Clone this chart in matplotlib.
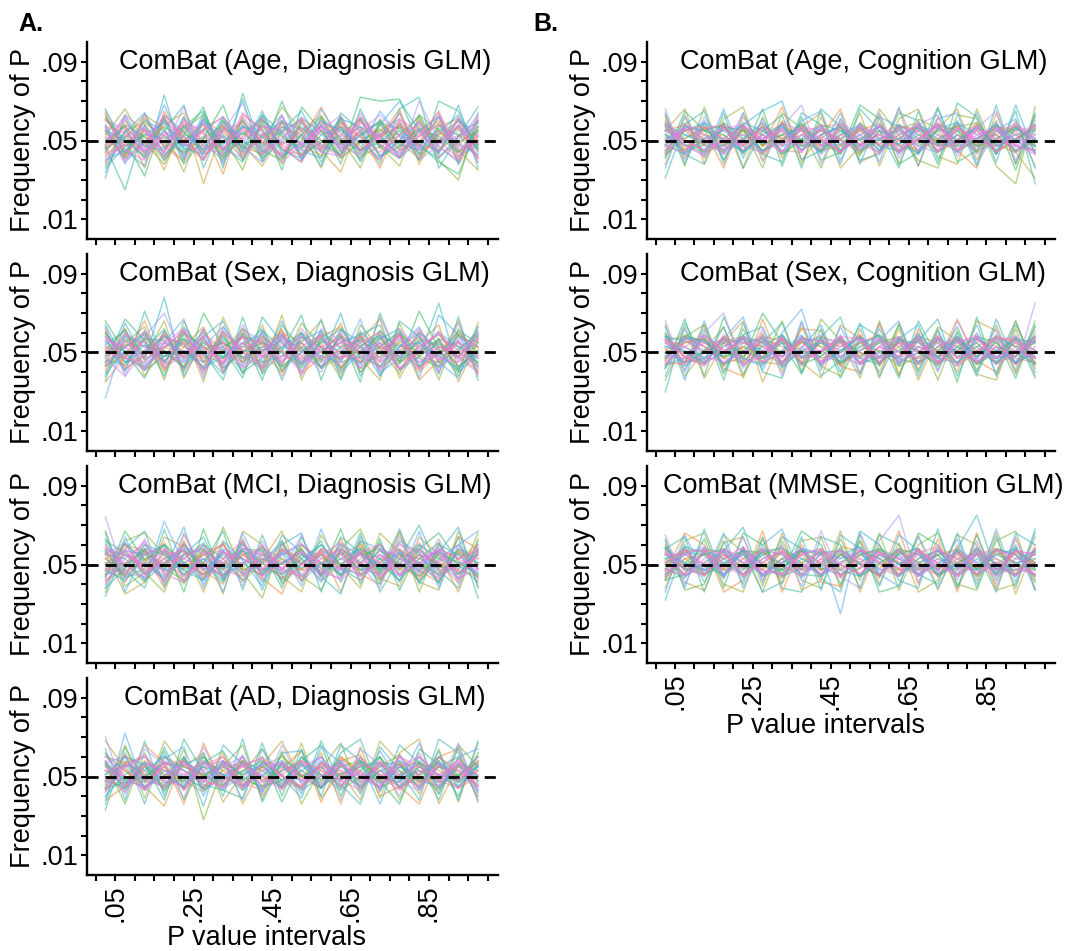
import numpy as np
import matplotlib
matplotlib.use('Agg')
import matplotlib.pyplot as plt
import matplotlib.transforms as mtransforms
import seaborn as sns

plt.rcParams['font.family'] = ['Liberation Sans', 'DejaVu Sans']

# interval midpoints (x) and tick labels
x_mid = [0.025, 0.075, 0.125, 0.175, 0.225, 0.275, 0.325, 0.375, 0.425, 0.475,
         0.525, 0.575, 0.625, 0.675, 0.725, 0.775, 0.825, 0.875, 0.925, 0.975]
x_ticks = [0.05, 0.25, 0.45, 0.65, 0.85]
x_ticklabels = ['.05', '.25', '.45', '.65', '.85']
y_ticks = [0.01, 0.05, 0.09]
y_ticklabels = ['.01', '.05', '.09']

# frequency of P per interval, in thousandths, one string per simulation run
age_dx = [
    "54 41 58 47 39 56 62 44 51 59 42 49 61 45 53 57 40 55 47 60",
    "44 57 46 63 52 40 55 59 43 50 61 47 42 56 51 64 45 49 58 41",
    "61 45 40 53 58 47 43 64 55 39 48 57 46 62 50 44 56 47 40 53",
    "38 52 56 44 61 54 46 41 58 49 45 55 63 43 54 46 60 41 52 57",
    "49 62 43 55 41 59 52 47 39 60 55 44 51 57 42 53 47 62 45 49",
    "57 39 49 60 46 43 56 53 62 45 41 58 48 52 60 41 50 44 58 46",
    "45 54 64 42 53 49 40 58 47 55 60 39 56 45 49 58 43 54 63 44",
    "36 47 53 51 57 44 61 45 52 41 53 62 44 55 42 50 63 47 39 59",
    "55 50 42 61 45 56 47 39 60 53 43 49 57 40 59 48 45 56 53 41",
    "48 58 52 40 56 63 43 50 42 57 51 45 53 61 47 41 55 50 60 48",
    "63 43 56 49 44 51 58 46 54 38 61 55 41 49 56 45 61 42 49 55",
    "42 53 45 58 64 47 49 57 40 60 48 42 62 47 40 57 52 60 44 50",
    "51 44 62 47 49 40 60 42 57 48 55 63 45 53 60 49 41 53 56 45",
    "60 56 41 53 43 59 39 55 46 63 42 50 49 41 55 61 48 45 57 39",
    "43 48 55 44 60 53 45 62 49 43 56 46 59 52 44 53 58 50 41 61",
    "56 40 49 62 48 44 55 51 61 47 39 57 52 60 48 42 53 64 46 49",
    "47 61 44 50 55 58 51 41 53 57 52 44 42 55 63 52 45 55 49 42",
    "65 49 57 43 52 46 59 50 44 51 62 53 47 43 53 60 40 48 55 59",
    "40 45 53 59 42 61 48 57 55 42 49 60 55 49 41 50 59 44 61 52",
    "50 57 47 45 62 41 53 44 63 54 45 41 61 57 52 43 55 62 42 48",
    "58 43 60 55 47 52 42 61 41 49 57 48 43 53 59 56 47 41 52 60",
    "46 52 41 63 54 45 62 48 52 60 40 53 57 45 50 64 43 58 48 43",
    "55 41 50 46 57 65 45 54 45 40 59 50 48 61 42 47 56 52 44 55",
    "39 55 59 52 44 48 57 40 58 52 46 61 41 50 55 53 62 45 53 47",
    "62 47 52 42 55 43 49 60 48 57 53 42 60 44 58 45 49 59 40 57",
    "44 60 48 57 50 58 41 52 61 45 43 55 50 57 47 59 42 53 60 50",
    "52 42 61 48 40 60 54 47 43 59 56 50 42 62 53 41 60 49 57 45",
    "57 54 43 60 52 40 58 43 53 48 42 59 54 45 52 58 47 62 42 54",
    "47 63 55 41 59 50 46 56 50 42 60 45 57 52 40 61 54 44 62 41",
    "41 48 45 54 48 55 62 50 57 55 48 57 46 59 51 42 52 58 50 63",
    "57 38 64 46 67 41 55 69 43 62 47 60 44 64 48 41 70 50 60 39",
    "34 55 44 68 47 61 38 57 52 63 40 66 50 45 65 52 46 63 38 64",
    "66 45 37 73 40 64 44 71 39 55 65 46 62 39 58 70 55 43 68 36",
    "31 63 47 55 68 36 60 46 65 43 53 37 64 55 38 66 72 36 52 67",
    "47 25 58 40 53 67 36 74 44 70 46 58 38 66 46 55 40 70 65 46",
    "61 50 32 62 38 51 68 40 60 35 67 55 42 72 70 71 48 39 33 57",
    "53 66 49 38 58 45 52 35 63 46 39 62 51 36 61 47 57 40 30 62",
    "37 51 63 56 34 62 41 60 48 67 55 36 59 42 47 37 63 55 45 35",
    "64 42 55 35 62 28 57 48 37 54 61 45 34 60 52 66 38 57 61 48",
    "46 58 36 65 50 55 33 63 56 41 50 67 48 54 36 59 49 65 38 52",
]
sex_dx = [
    "52 43 58 46 55 39 60 51 45 57 48 59 42 53 61 45 50 56 43 51",
    "43 56 48 60 41 52 46 58 54 44 62 50 55 45 51 59 41 53 48 60",
    "58 48 41 53 61 45 55 42 50 60 44 53 47 58 41 51 62 46 56 47",
    "47 60 53 42 49 58 43 62 55 48 51 40 59 50 55 42 53 60 47 40",
    "55 41 61 50 45 53 63 47 42 53 58 48 45 61 50 57 45 49 58 53",
    "39 51 49 58 54 42 48 55 59 41 50 60 52 44 58 48 55 42 51 61",
    "60 47 43 55 48 61 42 51 50 59 45 55 62 48 43 53 60 51 40 49",
    "48 58 55 45 59 49 53 40 61 52 55 43 50 57 47 60 43 57 53 45",
    "56 45 51 62 42 55 47 59 45 48 60 52 42 53 59 41 51 48 61 55",
    "45 53 60 48 51 43 58 50 55 42 53 46 58 40 53 61 48 55 43 50",
    "51 62 42 53 57 48 45 60 40 58 50 57 46 60 42 50 58 45 52 59",
    "43 49 57 40 60 52 55 47 58 50 44 61 53 49 57 45 53 59 48 41",
    "62 42 48 59 47 58 40 53 51 60 55 42 48 58 52 55 40 50 60 52",
    "41 59 53 50 43 60 51 45 57 38 58 50 60 45 48 59 53 43 55 48",
    "53 47 45 57 55 41 61 50 43 55 46 59 43 55 60 42 50 61 45 57",
    "57 52 61 44 50 53 45 58 48 51 40 53 57 52 46 58 45 53 50 43",
    "47 38 51 55 62 48 53 43 60 46 59 45 51 42 55 48 59 40 57 53",
    "50 56 44 61 45 59 50 55 40 58 52 48 61 53 45 51 42 56 47 60",
    "64 45 54 48 51 42 57 47 53 45 56 61 40 50 59 53 55 48 42 51",
    "43 53 59 45 57 50 39 60 51 56 44 51 55 59 40 47 51 60 53 47",
    "54 61 47 51 42 56 48 53 62 43 50 58 45 48 53 60 43 50 56 42",
    "46 44 57 56 50 45 59 40 47 53 60 42 53 56 50 44 57 54 48 59",
    "59 50 41 48 60 53 47 58 55 50 42 56 50 45 61 51 47 43 59 50",
    "40 57 50 59 47 51 55 48 43 59 51 45 58 53 43 56 50 57 41 55",
    "53 48 60 42 56 45 51 62 50 40 58 53 47 51 58 45 61 51 50 45",
    "48 54 53 51 43 62 42 50 58 51 47 50 59 42 50 54 48 45 59 53",
    "61 41 50 58 53 47 56 45 53 61 44 55 39 60 53 48 56 53 47 58",
    "45 60 46 53 48 55 50 59 42 48 55 47 51 58 45 59 42 50 55 40",
    "51 47 56 43 62 40 60 51 57 45 53 59 48 47 55 41 53 59 51 50",
    "56 53 42 55 50 58 44 55 47 58 48 43 56 50 42 62 51 47 45 57",
    "63 38 58 70 46 62 40 64 48 59 38 62 56 42 68 47 60 40 65 38",
    "27 59 41 55 67 37 63 50 44 66 40 57 46 67 38 53 63 45 37 63",
    "36 65 46 78 38 58 66 43 61 36 60 46 70 38 57 62 37 69 59 43",
    "58 40 71 45 57 41 52 37 68 55 43 67 36 59 64 41 48 75 41 63",
    "44 67 56 38 63 50 36 68 39 51 69 36 62 55 38 66 58 39 68 36",
    "66 50 37 61 40 70 53 58 36 64 52 42 59 35 70 45 71 52 38 58",
    "38 55 63 36 66 45 61 39 56 43 65 53 37 64 52 39 60 36 62 44",
    "60 45 48 66 37 57 44 62 41 69 36 58 63 47 36 65 42 57 40 65",
    "49 62 38 52 61 35 68 45 64 40 55 66 41 56 67 37 55 64 35 56",
    "35 48 66 41 53 63 40 55 48 62 39 48 65 40 50 59 36 46 66 39",
]
mci_dx = [
    "53 45 57 41 60 50 44 55 47 58 53 42 50 59 46 55 44 52 57 48",
    "44 57 47 53 42 56 60 46 53 43 48 58 55 45 51 61 49 43 53 58",
    "59 50 43 58 50 45 53 62 44 51 57 46 43 56 60 44 53 57 46 51",
    "41 53 61 46 55 58 43 51 57 48 45 55 61 49 44 53 48 59 43 56",
    "55 61 45 50 58 40 57 45 51 61 42 50 56 44 55 48 58 46 55 45",
    "47 42 55 60 45 53 48 58 41 55 60 51 45 57 48 57 41 53 60 50",
    "57 55 50 43 53 61 45 50 59 45 53 41 58 51 61 45 55 50 43 57",
    "38 48 58 55 47 42 56 53 46 57 50 60 48 42 53 50 60 44 51 46",
    "62 56 46 51 57 50 41 60 51 43 55 48 53 58 45 56 46 57 50 41",
    "45 51 41 57 44 60 53 42 55 50 58 45 57 47 50 42 53 61 45 55",
    "53 44 60 48 51 55 47 57 45 53 42 58 50 55 58 47 51 45 56 50",
    "50 60 53 42 61 45 51 48 59 41 51 55 44 61 42 53 58 48 53 60",
    "42 47 51 61 48 57 44 55 50 60 47 50 60 45 51 58 42 55 47 44",
    "58 41 56 50 45 51 61 44 53 48 57 44 53 50 60 48 55 42 58 53",
    "48 58 45 55 57 43 50 56 42 58 50 56 47 57 44 51 61 50 41 57",
    "56 50 62 45 41 55 57 50 60 47 44 53 58 42 55 45 50 58 53 47",
    "40 55 50 57 53 48 45 60 48 55 61 48 42 51 57 55 45 51 60 42",
    "61 45 44 53 58 56 51 42 55 45 50 57 53 48 45 60 56 44 50 55",
    "50 57 55 47 50 42 58 53 47 51 56 45 60 55 50 44 51 57 45 58",
    "45 48 60 56 47 53 42 57 51 62 44 51 48 45 58 53 47 60 55 48",
    "55 53 42 50 60 47 55 45 57 42 53 60 50 56 47 57 51 41 58 51",
    "44 61 51 44 55 58 48 51 44 56 48 55 45 58 53 42 60 53 48 56",
    "57 43 48 60 51 45 57 47 53 50 58 44 56 47 57 50 44 56 51 45",
    "51 50 57 48 42 57 50 61 48 45 55 50 58 51 42 55 53 48 57 50",
    "47 55 45 53 57 51 44 55 58 53 47 56 44 53 60 47 57 50 45 55",
    "60 44 53 57 48 55 60 48 45 57 51 47 55 60 48 51 42 58 53 57",
    "42 50 58 45 56 44 53 57 50 47 60 53 50 44 53 58 50 45 56 43",
    "53 60 47 51 53 60 47 44 56 51 42 57 48 56 51 45 55 51 47 60",
    "48 46 56 58 44 50 56 53 47 58 50 45 57 50 55 48 58 47 50 53",
    "58 55 50 42 61 48 51 58 55 48 56 51 47 55 43 57 50 56 43 48",
    "74 43 63 40 66 47 57 39 62 46 65 42 61 50 38 64 46 63 40 59",
    "38 64 42 72 50 60 36 66 45 56 39 68 44 62 58 41 67 38 60 67",
    "66 36 58 47 69 38 62 52 39 65 56 44 35 64 47 68 40 56 69 38",
    "34 58 67 39 55 64 43 62 37 60 66 36 64 56 40 62 56 40 64 33",
    "63 47 38 68 41 51 67 37 65 40 50 62 41 66 36 53 70 47 38 62",
    "43 67 52 60 36 68 42 58 57 38 64 45 68 40 63 37 58 66 52 44",
    "67 39 46 36 62 42 69 46 33 62 44 37 58 68 45 66 36 61 42 66",
    "36 62 66 55 40 58 35 67 60 44 36 65 49 38 66 56 41 37 67 39",
    "56 35 41 64 59 36 61 41 52 67 41 58 36 62 43 39 64 55 36 63",
    "46 60 57 38 65 47 40 63 43 35 60 50 63 45 40 67 47 41 64 58",
]
ad_dx = [
    "53 45 56 48 59 43 51 57 47 55 50 44 59 52 48 57 46 55 50 58",
    "46 57 48 55 43 53 60 46 51 44 58 53 48 43 57 51 56 47 59 45",
    "60 50 43 58 53 48 44 56 59 50 45 57 53 50 45 55 60 51 44 53",
    "43 55 60 46 57 51 56 44 53 58 48 55 44 59 51 47 43 57 53 48",
    "56 47 51 61 46 57 48 60 43 53 57 46 56 50 44 58 53 48 57 43",
    "48 60 44 53 50 44 58 51 56 46 53 60 48 55 57 45 51 60 47 55",
    "58 43 55 43 56 60 46 53 50 57 43 50 58 45 53 50 58 44 55 50",
    "40 51 57 50 45 55 51 43 58 48 56 45 51 57 46 55 48 57 50 60",
    "51 56 47 57 53 46 43 57 50 45 60 51 43 50 60 44 55 50 45 56",
    "57 48 53 45 58 50 55 48 45 61 50 44 55 58 48 53 45 60 51 46",
    "47 58 50 55 44 60 50 45 57 51 44 57 50 46 55 61 50 43 56 53",
    "55 45 58 51 48 42 57 51 55 44 53 48 60 53 44 50 57 53 47 58",
    "44 53 45 60 55 51 45 58 48 56 50 55 45 57 51 45 55 48 59 50",
    "60 57 51 44 50 57 53 47 43 53 58 50 53 44 57 56 47 58 44 55",
    "50 42 55 56 58 45 48 55 60 50 45 57 48 60 50 43 53 51 55 45",
    "42 55 61 48 45 55 58 44 53 57 51 45 56 51 47 60 50 45 57 51",
    "53 50 44 57 51 48 55 60 47 51 43 55 51 45 58 51 44 56 48 60",
    "57 60 48 45 57 53 44 50 56 45 57 50 58 50 53 45 60 50 53 43",
    "48 44 57 53 44 58 51 48 57 55 47 58 45 56 43 55 51 58 45 55",
    "45 56 53 60 53 47 57 45 51 58 53 44 56 47 55 58 48 45 57 50",
    "56 48 45 50 60 43 50 56 45 48 56 51 48 58 50 47 57 51 48 56",
    "51 60 56 47 48 55 45 58 53 44 60 48 57 44 53 56 44 55 60 47",
    "44 47 50 57 55 50 58 50 44 57 50 55 44 53 60 48 53 47 51 57",
    "61 53 43 55 47 60 48 53 58 48 45 57 51 55 47 51 60 44 56 48",
    "50 44 55 45 58 51 56 43 55 60 51 47 55 48 57 44 50 57 47 53",
    "43 57 60 51 50 44 53 58 48 53 57 44 60 51 45 57 47 55 50 60",
    "55 50 47 57 43 56 60 48 55 47 44 56 50 58 50 55 57 48 44 50",
    "47 61 51 44 56 48 45 57 45 51 58 53 45 56 53 44 51 60 53 45",
    "58 45 57 53 51 58 50 45 57 56 48 50 57 47 56 50 45 56 48 57",
    "53 55 44 50 58 47 57 55 50 43 55 60 47 53 44 60 55 50 58 44",
    "70 41 64 56 39 65 47 61 41 66 46 60 38 64 56 40 62 45 67 40",
    "36 72 43 59 65 40 58 38 64 50 39 65 57 41 63 47 67 41 60 64",
    "64 38 68 40 60 35 66 56 42 62 63 40 66 58 36 61 43 63 38 68",
    "39 62 36 65 44 62 40 69 37 57 41 68 46 36 65 53 38 69 62 38",
    "62 46 57 38 69 52 43 39 67 40 64 44 62 69 42 66 57 38 65 42",
    "33 65 48 63 38 57 63 45 60 37 58 66 40 60 48 36 64 56 40 62",
    "57 36 62 42 64 28 55 66 38 63 36 54 67 42 60 38 57 41 66 55",
    "44 66 39 68 55 62 37 52 64 44 67 39 52 38 68 57 41 64 37 67",
    "68 54 45 35 60 44 62 36 56 68 48 62 36 65 39 62 69 36 56 40",
    "38 45 66 57 36 67 45 60 40 54 63 37 58 61 40 45 36 60 64 37",
]
age_cog = [
    "52 45 57 47 55 43 59 50 45 56 48 53 58 44 51 57 47 53 45 50",
    "44 56 48 58 45 53 47 57 51 44 57 47 50 55 45 50 58 44 55 57",
    "58 48 42 51 57 50 55 44 56 50 45 58 44 51 57 45 53 56 48 43",
    "47 58 53 43 50 59 44 53 48 59 53 43 55 48 59 53 43 50 58 51",
    "55 43 59 55 47 44 57 48 58 45 51 50 57 47 44 56 50 59 44 55",
    "42 53 50 47 59 55 48 56 43 53 58 47 45 58 53 48 57 47 51 47",
    "59 50 45 57 44 51 58 45 53 57 44 55 51 43 56 59 45 55 50 58",
    "48 57 55 50 53 45 50 59 47 48 56 45 58 53 47 50 56 43 57 50",
    "53 44 48 59 51 57 43 51 58 55 47 57 48 56 51 44 51 58 47 45",
    "45 55 58 44 56 48 53 47 50 43 59 51 44 50 58 55 47 51 56 53",
    "57 47 51 53 43 58 50 55 44 57 50 44 56 59 48 47 58 45 50 57",
    "50 59 44 48 58 47 56 50 55 51 43 55 50 45 55 57 44 57 53 47",
    "43 51 56 57 50 43 53 58 45 47 55 59 45 51 44 50 59 48 44 56",
    "60 45 50 45 55 53 45 44 57 58 51 48 57 56 50 58 48 53 57 48",
    "47 56 57 51 47 57 51 48 51 44 57 53 47 50 59 45 55 44 51 58",
    "55 50 45 56 58 50 59 55 47 53 48 44 53 58 47 56 51 57 47 45",
    "44 58 53 45 51 44 50 57 55 50 58 51 56 45 53 44 57 50 59 51",
    "56 47 43 58 48 56 44 53 45 59 47 57 43 55 57 51 45 55 48 57",
    "51 55 59 50 45 51 57 45 57 48 53 45 58 51 48 59 53 45 56 50",
    "48 43 51 55 57 48 53 56 50 45 56 50 48 57 44 53 47 58 50 44",
    "58 53 48 44 51 59 47 51 44 55 50 58 47 44 56 50 57 48 53 55",
    "45 57 55 53 44 53 58 47 53 57 45 51 55 50 58 47 51 56 45 51",
    "53 48 44 57 55 45 50 58 48 51 57 47 51 58 48 55 44 51 57 47",
    "50 51 57 48 50 57 43 50 56 45 51 55 44 53 50 57 59 47 51 56",
    "57 45 53 51 58 47 55 45 51 58 44 50 57 47 55 45 50 53 44 50",
    "43 55 47 56 48 55 51 57 45 53 55 45 53 57 47 53 48 57 55 45",
    "55 58 50 45 56 44 59 48 55 50 47 58 48 45 57 50 55 44 50 58",
    "47 44 56 58 47 57 48 53 58 47 56 48 57 55 45 58 45 55 58 48",
    "59 50 45 50 53 50 44 56 47 57 48 53 45 51 58 48 56 51 47 53",
    "50 56 51 43 57 51 56 45 53 44 53 57 50 59 44 56 50 47 53 44",
    "66 40 62 45 64 39 57 68 38 61 45 64 41 58 63 42 56 65 40 60",
    "36 63 42 66 41 61 44 60 65 40 59 39 67 43 61 64 38 55 61 36",
    "64 38 60 40 58 65 70 40 45 64 38 62 57 37 66 44 64 39 68 43",
    "31 58 65 38 64 43 39 64 58 38 66 55 36 65 40 60 37 68 38 64",
    "58 43 38 64 36 55 63 36 66 57 40 43 64 60 38 69 62 43 65 28",
    "41 65 55 58 44 66 37 62 40 44 68 61 38 44 67 39 45 60 35 62",
    "62 37 67 40 57 36 64 56 36 61 42 66 53 40 36 63 61 37 28 67",
    "38 62 41 61 67 40 60 38 62 43 64 37 61 66 42 38 66 43 60 37",
    "55 66 38 59 36 62 41 57 64 36 47 63 38 61 56 66 40 58 44 31",
    "63 41 56 36 62 47 67 40 52 66 39 44 66 37 62 45 36 64 38 63",
]
sex_cog = [
    "52 45 57 47 53 59 45 50 56 43 55 48 58 45 51 57 44 53 48 57",
    "46 56 50 58 44 51 57 47 50 58 45 53 48 56 44 50 58 47 55 45",
    "57 48 43 53 58 45 50 56 44 53 57 45 55 50 58 47 51 57 44 53",
    "43 58 53 45 50 56 44 53 59 48 51 57 44 53 48 56 45 50 58 48",
    "55 45 59 51 47 43 58 48 51 57 44 50 57 47 55 44 57 48 51 58",
    "48 53 47 57 55 51 48 58 45 50 58 47 51 58 45 53 48 59 45 50",
    "58 43 51 48 59 47 55 44 57 45 53 59 45 50 57 48 55 44 56 47",
    "42 57 56 44 51 58 43 51 48 56 47 44 56 55 47 58 45 51 57 55",
    "53 50 45 55 43 53 59 47 55 51 58 50 47 44 53 51 58 47 50 44",
    "47 59 55 50 57 44 51 57 43 58 48 55 58 51 43 57 48 55 44 56",
    "59 47 44 58 48 56 45 55 53 45 57 44 53 57 51 45 53 58 53 50",
    "50 55 57 43 53 48 58 45 58 55 45 51 43 48 56 53 44 50 57 45",
    "44 45 50 56 58 50 44 56 47 50 55 59 50 56 44 58 51 45 48 58",
    "56 58 53 47 45 57 53 50 51 44 50 47 57 45 59 47 56 53 44 51",
    "55 48 44 59 51 45 57 43 56 53 59 44 55 53 50 43 50 58 55 47",
    "45 53 59 51 56 53 47 58 50 57 44 53 48 58 45 55 59 44 50 57",
    "57 44 48 45 50 58 44 53 45 48 56 57 45 50 57 51 45 56 58 48",
    "48 57 55 56 44 50 56 48 57 55 47 50 58 44 53 58 50 47 51 55",
    "53 51 45 50 57 47 51 59 44 51 58 45 51 56 47 45 57 51 45 59",
    "44 47 58 44 55 57 48 51 55 45 51 56 47 59 50 57 47 58 53 44",
    "58 56 51 57 47 44 59 47 50 58 44 48 55 45 57 50 53 44 57 51",
    "50 45 47 53 58 55 45 57 56 47 55 58 44 53 48 56 44 51 48 56",
    "47 58 56 48 51 47 57 44 48 57 50 45 57 50 44 53 58 55 45 50",
    "55 50 44 58 45 56 50 55 58 44 53 51 48 58 55 45 51 47 58 47",
    "43 55 57 47 53 50 55 51 45 56 47 57 53 45 51 58 48 57 50 55",
    "59 48 50 55 57 45 44 58 53 50 59 44 56 50 58 47 55 45 53 58",
    "51 57 53 44 48 58 56 47 57 44 51 55 45 57 48 51 57 50 47 45",
    "45 44 58 51 55 53 48 56 45 55 48 57 50 47 56 44 50 58 56 51",
    "56 53 45 57 44 48 58 45 51 58 57 47 55 44 53 57 45 53 48 57",
    "48 47 55 50 58 55 45 57 56 48 44 53 58 51 45 55 58 47 51 47",
    "66 40 60 70 42 62 38 65 45 59 39 64 46 60 40 66 46 62 41 75",
    "38 62 44 57 68 41 60 72 41 63 44 56 66 38 61 43 64 39 59 37",
    "63 36 66 40 59 63 42 52 64 40 65 38 57 64 41 60 38 67 44 63",
    "30 65 46 63 39 55 65 40 58 68 39 62 43 56 67 38 60 45 66 40",
    "60 41 62 36 65 40 37 66 38 46 64 58 37 66 47 63 40 57 37 64",
    "42 67 38 68 46 70 55 39 62 37 57 43 64 40 62 35 68 38 64 44",
    "36 58 64 39 62 45 66 40 67 56 37 66 39 60 36 61 41 64 40 66",
    "64 38 51 63 37 60 40 63 43 38 62 37 65 41 63 56 39 36 62 38",
    "46 63 37 55 66 35 58 45 37 64 57 40 62 36 58 40 66 61 39 61",
    "57 45 64 42 38 67 43 62 61 43 40 65 38 62 45 67 46 40 66 42",
]
mmse_cog = [
    "52 45 56 48 58 44 53 57 47 55 50 44 57 51 45 56 48 58 45 53",
    "44 57 50 55 45 51 58 45 53 44 57 51 48 58 50 44 55 47 57 50",
    "57 48 44 58 53 47 45 55 58 50 45 56 53 45 57 53 45 51 44 58",
    "47 55 59 45 50 57 50 44 51 57 53 48 44 55 47 58 51 57 55 45",
    "55 44 51 57 43 53 56 50 45 53 59 44 57 48 53 47 57 44 50 55",
    "43 58 47 51 55 45 51 58 56 47 44 55 50 57 44 51 47 55 58 48",
    "59 50 55 44 58 50 44 53 48 58 50 45 55 44 57 48 59 45 53 57",
    "48 43 57 53 47 57 55 45 44 51 57 53 45 51 55 44 53 48 47 51",
    "53 56 45 50 57 44 48 57 55 45 48 58 53 45 50 57 45 58 55 44",
    "45 51 58 56 45 55 59 47 50 56 44 50 58 55 45 51 56 50 57 51",
    "58 47 50 45 53 58 47 51 57 44 55 57 47 50 58 45 50 53 45 56",
    "50 58 44 55 48 50 43 57 47 55 51 45 56 58 48 55 44 57 51 47",
    "42 53 55 47 56 45 53 55 44 59 57 50 44 53 57 50 58 45 56 50",
    "56 45 48 58 50 56 50 44 53 50 45 55 51 47 55 57 48 51 44 58",
    "51 57 57 50 44 51 57 47 58 47 53 44 58 48 45 53 55 58 50 45",
    "47 50 45 53 59 47 45 56 51 43 58 51 45 57 51 44 50 47 57 55",
    "57 44 53 57 51 58 55 50 45 57 48 56 53 50 58 48 56 51 45 50",
    "44 55 58 45 56 44 51 58 55 50 45 53 58 44 51 56 45 57 55 44",
    "55 51 47 57 48 55 44 48 57 53 56 47 50 56 47 58 51 48 50 57",
    "50 59 56 51 45 57 58 53 48 45 51 57 44 53 57 48 55 45 58 48",
    "58 47 50 44 57 50 47 57 44 55 59 45 55 58 45 51 47 55 51 53",
    "45 56 55 58 51 45 53 45 56 57 44 51 57 47 55 45 58 50 44 57",
    "53 48 45 53 57 56 50 58 50 47 55 58 50 45 57 53 48 58 55 47",
    "48 57 57 47 50 48 57 51 45 55 50 44 56 51 48 57 44 51 47 56",
    "56 44 51 57 44 57 45 55 58 48 57 53 47 58 44 50 57 45 57 51",
    "43 53 47 50 55 47 56 48 51 58 45 55 51 48 55 58 47 56 50 44",
    "59 48 56 45 58 51 48 57 47 51 55 48 58 44 53 47 55 48 45 58",
    "51 58 45 55 48 58 44 50 57 44 48 57 45 56 59 51 45 58 53 50",
    "47 45 57 56 45 53 56 47 55 57 51 45 53 57 47 56 50 44 57 55",
    "55 55 50 48 58 45 51 58 45 50 57 56 48 45 51 45 58 53 48 45",
    "65 40 59 43 64 42 60 39 67 44 38 62 75 41 60 42 62 40 64 38",
    "36 65 45 66 38 60 68 43 56 25 66 45 39 64 46 63 40 68 41 66",
    "62 38 68 43 59 36 41 64 37 65 58 39 65 57 38 58 75 46 60 37",
    "32 60 41 57 69 41 64 58 43 36 67 60 42 38 68 39 56 36 66 60",
    "58 64 36 62 40 64 38 36 64 60 38 65 60 45 40 66 38 64 38 68",
    "42 45 63 38 66 60 45 67 60 40 62 36 39 66 60 38 65 42 59 41",
    "63 37 40 65 56 36 62 42 38 63 42 66 37 60 66 40 37 62 67 37",
    "38 62 66 40 36 63 40 62 64 38 65 40 61 36 42 65 60 37 40 64",
    "60 41 37 61 64 39 66 37 42 67 36 60 44 65 37 60 42 66 35 60",
    "46 66 60 36 42 67 36 60 41 39 62 43 67 40 63 36 66 38 63 42",
]

titles_a = ['ComBat (Age, Diagnosis GLM)', 'ComBat (Sex, Diagnosis GLM)',
            'ComBat (MCI, Diagnosis GLM)', 'ComBat (AD, Diagnosis GLM)']
titles_b = ['ComBat (Age, Cognition GLM)', 'ComBat (Sex, Cognition GLM)',
            'ComBat (MMSE, Cognition GLM)']
data_a = [age_dx, sex_dx, mci_dx, ad_dx]
data_b = [age_cog, sex_cog, mmse_cog]

FS = 19.5
W, H = 1083, 951
fig = plt.figure(figsize=(W / 100, H / 100), dpi=100)


def to_array(rows):
    return np.array([[int(v) for v in r.split()] for r in rows]) / 1000.0


def draw_panel(rect, rows, title, bottom):
    ax = fig.add_axes(rect)
    vals = to_array(rows)
    n = len(vals)
    pal = sns.husl_palette(n, h=0.01, s=0.9, l=0.68)
    # interleave runs in drawing order; hue follows drawing order (magenta last, on top)
    order = [(k * 13) % n for k in range(n)]
    for k, idx in enumerate(order):
        ax.plot(x_mid, vals[idx], color=pal[k], lw=1.05, alpha=0.55, zorder=2)
    ax.axhline(0.05, color='black', lw=2.0, ls=(0, (4, 2.5)), zorder=5)
    ax.set_xlim(-0.022, 1.026)
    ax.set_ylim(0.0, 0.1)
    ax.set_yticks(y_ticks)
    ax.set_yticklabels(y_ticklabels, fontsize=FS)
    ax.set_yticks(np.arange(0.01, 0.0951, 0.01), minor=True)
    ax.set_xticks(x_ticks)
    ax.set_xticks(np.arange(0.0, 1.001, 0.05), minor=True)
    for s in ['top', 'right']:
        ax.spines[s].set_visible(False)
    for s in ['left', 'bottom']:
        ax.spines[s].set_linewidth(1.7)
    ax.tick_params(which='both', direction='out', length=4.5, width=1.5, pad=2)
    ax.set_ylabel('Frequency of P', fontsize=FS, labelpad=3)
    if bottom:
        ax.set_xticklabels(x_ticklabels, fontsize=FS, rotation=90)
        ax.set_xlabel('P value intervals', fontsize=FS, labelpad=2)
        ax.xaxis.label.set_x(0.437)
    else:
        ax.set_xticklabels([])
    trans = mtransforms.blended_transform_factory(ax.transAxes, ax.transData)
    ax.text(0.53, 0.09, title, transform=trans, ha='center', va='center', fontsize=FS)
    return ax


tops = [42, 254, 466, 678]
ax_h = 197
for i in range(4):
    rect = [87 / W, 1 - (tops[i] + ax_h) / H, 411 / W, ax_h / H]
    draw_panel(rect, data_a[i], titles_a[i], bottom=(i == 3))
for i in range(3):
    rect = [647 / W, 1 - (tops[i] + ax_h) / H, 408 / W, ax_h / H]
    draw_panel(rect, data_b[i], titles_b[i], bottom=(i == 2))

fig.text(18 / W, 1 - 12 / H, 'A.', fontsize=18, fontweight='bold', va='top', ha='left')
fig.text(533 / W, 1 - 12 / H, 'B.', fontsize=18, fontweight='bold', va='top', ha='left')

fig.savefig('out.png', dpi=100)
